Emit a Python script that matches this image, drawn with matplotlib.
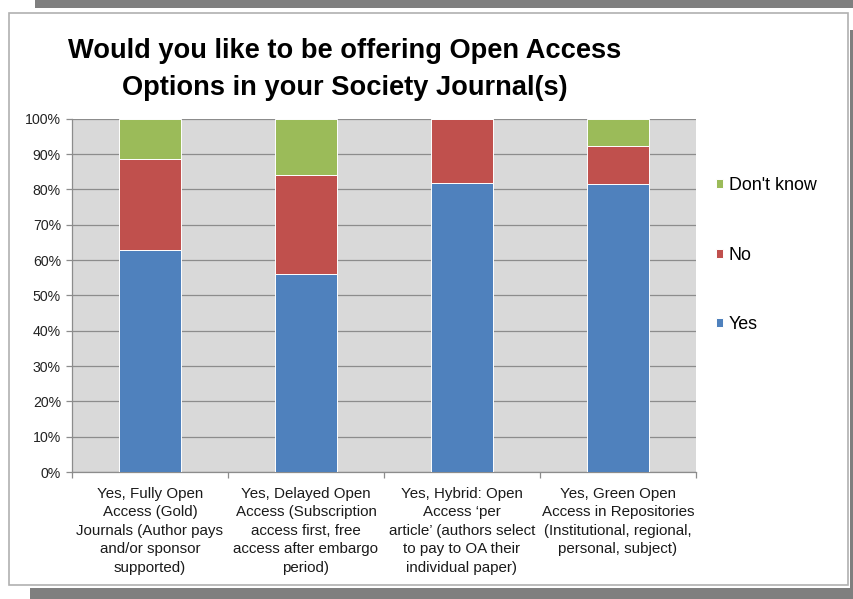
import matplotlib
matplotlib.use("Agg")
import matplotlib.pyplot as plt
from matplotlib.patches import Rectangle
import numpy as np

plt.rcParams['font.family'] = ['Liberation Sans', 'DejaVu Sans']

categories = [
    "Yes, Fully Open\nAccess (Gold)\nJournals (Author pays\nand/or sponsor\nsupported)",
    "Yes, Delayed Open\nAccess (Subscription\naccess first, free\naccess after embargo\nperiod)",
    "Yes, Hybrid: Open\nAccess \u2018per\narticle\u2019 (authors select\nto pay to OA their\nindividual paper)",
    "Yes, Green Open\nAccess in Repositories\n(Institutional, regional,\npersonal, subject)",
]
yes_vals = [62.9, 56.1, 81.9, 81.5]
no_vals = [25.8, 28.1, 18.1, 10.9]
dontknow_vals = [11.3, 15.8, 0.0, 7.6]
series_names = ["Yes", "No", "Don't know"]
series_colors = ["#4F81BD", "#C0504D", "#9BBB59"]
yticks = [0, 10, 20, 30, 40, 50, 60, 70, 80, 90, 100]
title = "Would you like to be offering Open Access\nOptions in your Society Journal(s)"

W, H = 854, 599
fig = plt.figure(figsize=(W / 100, H / 100), dpi=100)
fig.patch.set_facecolor("white")

def frect(x0, y0, x1, y1, **kw):
    # pixel coords (top-left origin) -> figure fraction rectangle
    r = Rectangle((x0 / W, 1 - y1 / H), (x1 - x0) / W, (y1 - y0) / H,
                  transform=fig.transFigure, figure=fig, **kw)
    fig.patches.append(r)

# frame decorations
frect(35, 0, 854, 8, facecolor="#7f7f7f", edgecolor="none", zorder=0)
frect(850, 30, 854, 599, facecolor="#7f7f7f", edgecolor="none", zorder=0)
frect(30, 588, 854, 599, facecolor="#7f7f7f", edgecolor="none", zorder=0)
frect(9, 13, 848, 585, facecolor="white", edgecolor="#b0b0b0", linewidth=1.2, zorder=1)

ax = fig.add_axes([72 / W, 1 - 472 / H, (696 - 72) / W, (472 - 118.7) / H])
ax.set_zorder(2)
ax.set_facecolor("#d9d9d9")

x = np.arange(len(categories))
width = 0.4
bottom = np.zeros(len(categories))
bars = []
for vals, name, col in zip([yes_vals, no_vals, dontknow_vals], series_names, series_colors):
    b = ax.bar(x, vals, width, bottom=bottom, color=col, edgecolor="white",
               linewidth=0.7, label=name, zorder=3)
    bars.append(b)
    bottom = bottom + np.array(vals)

ax.set_xlim(-0.5, len(categories) - 0.5)
ax.set_ylim(0, 100)
ax.set_yticks(yticks)
ax.set_yticklabels([f"{v}%" for v in yticks], fontsize=10.2, color="#222222")
ax.yaxis.grid(True, color="#8c8c8c", linewidth=0.9, zorder=1)
ax.set_axisbelow(True)

ax.set_xticks(x)
ax.set_xticklabels(categories, fontsize=10.9, color="#1a1a1a", linespacing=1.42)
ax.set_xticks(np.arange(-0.5, len(categories), 1.0), minor=True)
ax.tick_params(axis="x", which="major", length=0, pad=10.5)
ax.tick_params(axis="x", which="minor", length=4, color="#8c8c8c", direction="out", width=0.9)
ax.tick_params(axis="y", length=4, color="#8c8c8c", width=0.9, pad=4)

for s in ["top", "right"]:
    ax.spines[s].set_visible(False)
for s in ["left", "bottom"]:
    ax.spines[s].set_color("#8c8c8c")
    ax.spines[s].set_linewidth(0.9)

handles = [bars[2], bars[1], bars[0]]
labels = [series_names[2], series_names[1], series_names[0]]
fig.legend(handles, labels, loc="center left", bbox_to_anchor=(716 / W, 1 - 255 / H),
           frameon=False, fontsize=12.9, handlelength=0.4, handleheight=0.4,
           handletextpad=0.3, labelspacing=2.92, borderaxespad=0, borderpad=0)

fig.text(345 / W, 1 - 69.5 / H, title, ha="center", va="center", fontsize=19.6,
         fontweight="bold", color="black", linespacing=1.52, zorder=3)

fig.savefig("out.png", dpi=100, facecolor=fig.get_facecolor())
